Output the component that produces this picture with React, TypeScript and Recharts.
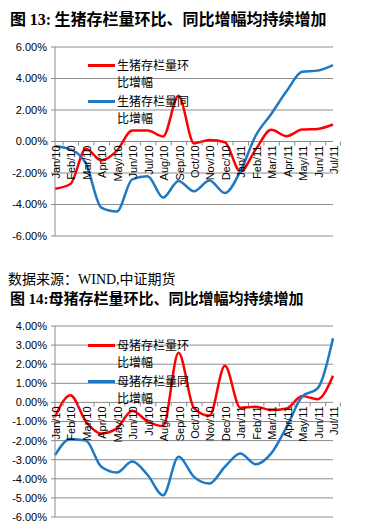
import { LineChart, Line, XAxis, YAxis, CartesianGrid } from 'recharts';

const months = [
    'Jan/10', 'Feb/10', 'Mar/10', 'Apr/10', 'May/10', 'Jun/10', 'Jul/10', 'Aug/10', 'Sep/10', 'Oct/10',
    'Nov/10', 'Dec/10', 'Jan/11', 'Feb/11', 'Mar/11', 'Apr/11', 'May/11', 'Jun/11', 'Jul/11'
];

// 图13 生猪存栏量 (%)
const hogMoM = [-3.0, -2.7, -0.46, -1.2, -0.6, 0.7, 0.7, 0.32, 2.9, -0.12, 0.1, -0.05, -1.9, -0.5, 0.74, 0.34, 0.76, 0.8, 1.08];
const hogYoY = [-0.3, -0.5, -1.4, -4.2, -4.45, -2.4, -2.2, -3.56, -2.5, -3.16, -2.47, -3.27, -1.9, 0.38, 1.75, 3.2, 4.43, 4.5, 4.85];
const hogTicks = [-6, -4, -2, 0, 2, 4, 6];
const hogNames = ['生猪存栏量环比增幅', '生猪存栏量同比增幅'];

// 图14 母猪存栏量 (%)
const sowMoM = [-0.75, 0.38, -1.0, -1.63, -1.36, -0.44, -1.0, -1.24, 2.6, -0.3, -0.7, 1.92, -0.28, -0.23, -0.4, -0.32, 0.33, 0.17, 1.4];
const sowYoY = [-2.76, -1.92, -2.0, -3.37, -3.67, -3.1, -3.8, -4.86, -2.85, -3.9, -4.25, -3.37, -2.67, -3.24, -2.67, -1.28, 0.3, 0.73, 3.36];
const sowTicks = [-6, -5, -4, -3, -2, -1, 0, 1, 2, 3, 4];
const sowNames = ['母猪存栏量环比增幅', '母猪存栏量同比增幅'];

const RED = '#ff0000';
const BLUE = '#1f78c1';
const GRID = '#8c8c8c';
const CJK = '"Noto Sans CJK SC", sans-serif';
const LATIN = '"Liberation Sans", Arial, sans-serif';
const SERIF = '"Liberation Serif", "Times New Roman", serif';

const W = 371;
const PLOT_LEFT = 55;
const PLOT_RIGHT_GAP = 38;

function MonthTick(props: any) {
    const { x, payload, index, zeroY, band } = props;
    const left = x - band / 2;
    return (
        <g>
            <line x1={left} y1={zeroY} x2={left} y2={zeroY + 4} stroke={GRID} />
            {index === months.length - 1 && (
                <line x1={x + band / 2} y1={zeroY} x2={x + band / 2} y2={zeroY + 4} stroke={GRID} />
            )}
            <text
                transform={`translate(${x + 5},${zeroY + 4}) rotate(-90)`}
                textAnchor="end"
                fontSize={11}
                fontFamily={LATIN}
                fill="#000"
            >
                {payload.value}
            </text>
        </g>
    );
}

function LegendBox({ names }: { names: string[] }) {
    const colors = [RED, BLUE];
    return (
        <div style={{ position: 'absolute', left: 88, top: 57, fontFamily: CJK, fontSize: 12, color: '#000' }}>
            {names.map((n, i) => (
                <div key={n} style={{ display: 'flex', marginBottom: 3 }}>
                    <div style={{ width: 27, height: 3, background: colors[i], marginTop: 7, marginRight: 2 }} />
                    <div style={{ width: 74, lineHeight: '16.5px', wordBreak: 'break-all' }}>{n}</div>
                </div>
            ))}
        </div>
    );
}

function Panel({ top, height, marginTop, marginBottom, ticks, moM, yoY, names }: any) {
    const rows = months.map((m, i) => ({ m, mom: moM[i], yoy: yoY[i] }));
    const yMin = ticks[0];
    const yMax = ticks[ticks.length - 1];
    const plotH = height - marginTop - marginBottom;
    const zeroY = marginTop + (plotH * yMax) / (yMax - yMin);
    const band = (W - PLOT_RIGHT_GAP - PLOT_LEFT) / months.length;

    return (
        <div style={{ position: 'absolute', left: 0, top, width: W, height }}>
            <LineChart
                width={W}
                height={height}
                data={rows}
                margin={{ top: marginTop, right: PLOT_RIGHT_GAP, bottom: marginBottom - 1, left: 0 }}
            >
                <CartesianGrid vertical={false} stroke={GRID} />
                <XAxis
                    dataKey="m"
                    interval={0}
                    height={1}
                    axisLine={false}
                    tickLine={false}
                    tick={(p: any) => <MonthTick {...p} zeroY={zeroY} band={band} />}
                />
                <YAxis
                    width={PLOT_LEFT}
                    domain={[yMin, yMax]}
                    ticks={ticks}
                    interval={0}
                    tickFormatter={(v: number) => v.toFixed(2) + '%'}
                    tick={{ fontSize: 11, fill: '#000', fontFamily: LATIN }}
                    tickSize={4}
                    tickMargin={4}
                    axisLine={{ stroke: GRID }}
                    tickLine={{ stroke: GRID }}
                />
                <Line type="monotone" dataKey="mom" name={names[0]} stroke={RED} strokeWidth={2.5} dot={false} isAnimationActive={false} />
                <Line type="monotone" dataKey="yoy" name={names[1]} stroke={BLUE} strokeWidth={2.5} dot={false} isAnimationActive={false} />
            </LineChart>
            <LegendBox names={names} />
        </div>
    );
}

export default function App() {
    return (
        <div style={{ position: 'absolute', left: 0, top: 0, width: W, height: 525, background: '#fff', overflow: 'hidden' }}>
            <div style={{ position: 'absolute', left: 10, top: 9, fontFamily: CJK, fontWeight: 700, fontSize: 16, lineHeight: '18px', whiteSpace: 'nowrap' }}>
                图 <span style={{ fontFamily: SERIF }}>13:</span> 生猪存栏量环比、同比增幅均持续增加
            </div>
            <Panel top={0} height={250} marginTop={47} marginBottom={14} ticks={hogTicks} moM={hogMoM} yoY={hogYoY} names={hogNames} />
            <div style={{ position: 'absolute', left: 8, top: 269, fontFamily: CJK, fontSize: 14, lineHeight: '18px', whiteSpace: 'nowrap' }}>
                数据来源：<span style={{ fontFamily: SERIF }}>WIND,</span>中证期货
            </div>
            <div style={{ position: 'absolute', left: 10, top: 289, fontFamily: CJK, fontWeight: 700, fontSize: 15, lineHeight: '18px', whiteSpace: 'nowrap' }}>
                图 <span style={{ fontFamily: SERIF }}>14:</span>母猪存栏量环比、同比增幅均持续增加
            </div>
            <Panel top={280} height={245} marginTop={46} marginBottom={8} ticks={sowTicks} moM={sowMoM} yoY={sowYoY} names={sowNames} />
        </div>
    );
}
